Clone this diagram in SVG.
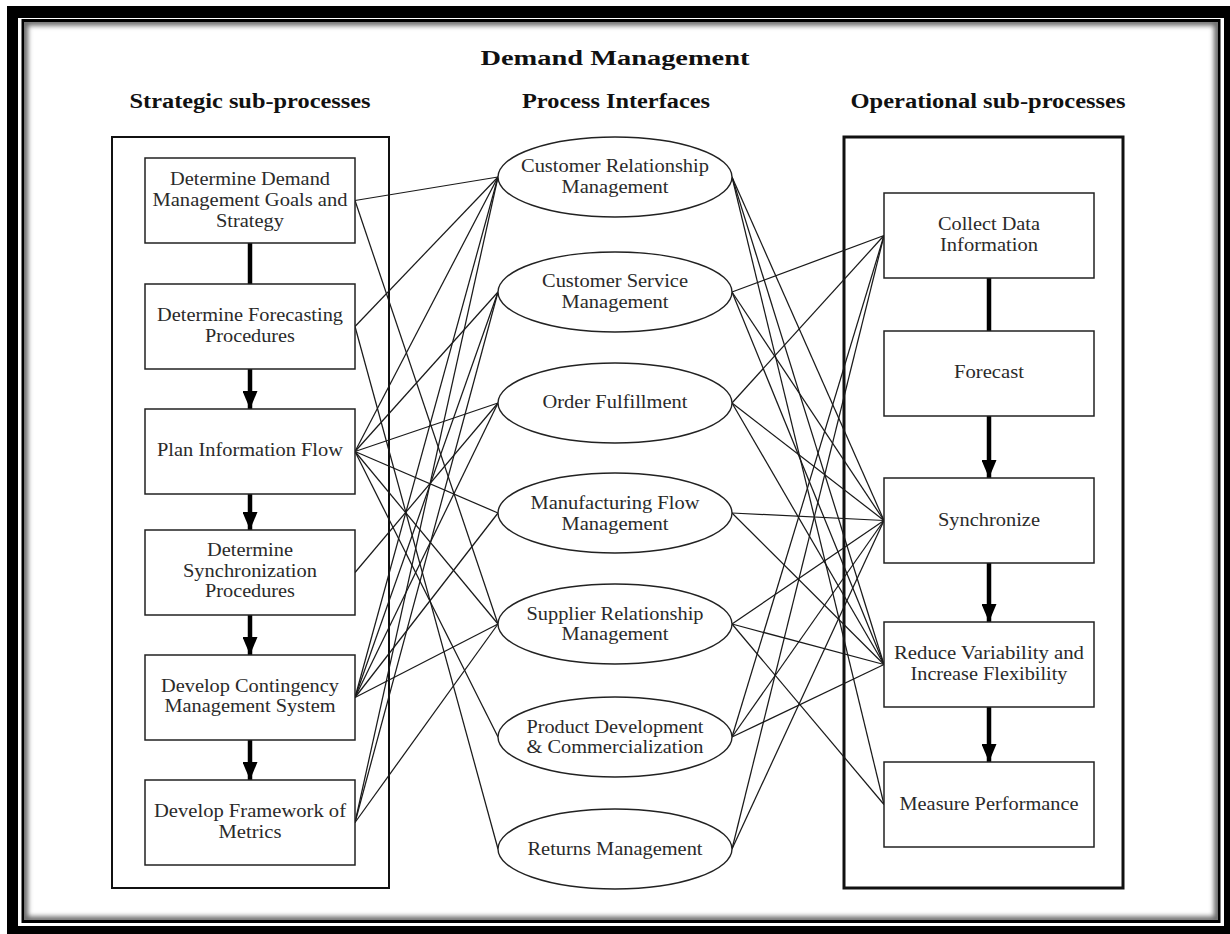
<svg xmlns="http://www.w3.org/2000/svg" width="1230" height="934" viewBox="0 0 1230 934">
  <style>
    .box { fill: #fff; stroke: #222; stroke-width: 1.5; }
    .ell { fill: #fff; stroke: #222; stroke-width: 1.4; }
    .grp { fill: none; stroke: #111; }
    .lbl { font-family: "Liberation Serif", "Times New Roman", serif; font-size: 19px; fill: #2a2a2a; text-anchor: middle; }
    .hdr { font-family: "Liberation Serif", "Times New Roman", serif; font-size: 20px; font-weight: bold; fill: #111; text-anchor: middle; }
    .link { stroke: #1a1a1a; stroke-width: 1.25; fill: none; }
    .flow { stroke: #000; stroke-width: 4.5; fill: none; }
  </style>
  <defs>
    <marker id="head" viewBox="0 0 18 15" refX="18" refY="7.5" markerWidth="18" markerHeight="15" markerUnits="userSpaceOnUse" orient="auto">
      <path d="M0,0 L18,7.5 L0,15 Z" fill="#000"/>
    </marker>
    <filter id="soft" x="-5%" y="-5%" width="110%" height="110%">
      <feGaussianBlur stdDeviation="2.5"/>
    </filter>
    <clipPath id="inside">
      <rect x="24.5" y="22" width="1193" height="898"/>
    </clipPath>
  </defs>

  <rect x="0" y="0" width="1230" height="934" fill="#fff"/>

  <!-- page frame: heavy outer band, thin inner rule, soft inner shade -->
  <path d="M7,6 H1230 V934 H7 Z M18,18 V926 H1224 V18 Z" fill="#000" fill-rule="evenodd"/>
  <rect x="23" y="20.5" width="1196" height="901" fill="none" stroke="#000" stroke-width="3"/>
  <rect x="24.5" y="22" width="1193" height="898" fill="none" stroke="#666" stroke-width="7" filter="url(#soft)" clip-path="url(#inside)"/>

  <!-- headings -->
  <text class="hdr" x="615" y="65" textLength="269" lengthAdjust="spacingAndGlyphs">Demand Management</text>
  <text class="hdr" x="250" y="108" textLength="241" lengthAdjust="spacingAndGlyphs">Strategic sub-processes</text>
  <text class="hdr" x="616" y="108" textLength="188" lengthAdjust="spacingAndGlyphs">Process Interfaces</text>
  <text class="hdr" x="988" y="108" textLength="275" lengthAdjust="spacingAndGlyphs">Operational sub-processes</text>

  <!-- column frames -->
  <rect class="grp" x="112" y="137" width="277" height="751" stroke-width="2"/>
  <rect class="grp" x="844" y="137" width="279" height="751" stroke-width="3"/>

  <!-- connectors -->
  <g id="connectors">
    <!-- strategic sub-processes to process interfaces -->
    <line class="link" x1="355" y1="200.5" x2="498" y2="177"/>
    <line class="link" x1="355" y1="200.5" x2="498" y2="624"/>
    <line class="link" x1="355" y1="326.5" x2="498" y2="177"/>
    <line class="link" x1="355" y1="326.5" x2="498" y2="849"/>
    <line class="link" x1="355" y1="451.5" x2="498" y2="177"/>
    <line class="link" x1="355" y1="451.5" x2="498" y2="292"/>
    <line class="link" x1="355" y1="451.5" x2="498" y2="403"/>
    <line class="link" x1="355" y1="451.5" x2="498" y2="513"/>
    <line class="link" x1="355" y1="451.5" x2="498" y2="624"/>
    <line class="link" x1="355" y1="451.5" x2="498" y2="737"/>
    <line class="link" x1="355" y1="572.5" x2="498" y2="403"/>
    <line class="link" x1="355" y1="697.5" x2="498" y2="177"/>
    <line class="link" x1="355" y1="697.5" x2="498" y2="292"/>
    <line class="link" x1="355" y1="697.5" x2="498" y2="403"/>
    <line class="link" x1="355" y1="697.5" x2="498" y2="513"/>
    <line class="link" x1="355" y1="697.5" x2="498" y2="624"/>
    <line class="link" x1="355" y1="822.5" x2="498" y2="177"/>
    <line class="link" x1="355" y1="822.5" x2="498" y2="292"/>
    <line class="link" x1="355" y1="822.5" x2="498" y2="624"/>
    <!-- process interfaces to operational sub-processes -->
    <line class="link" x1="732" y1="177" x2="884" y2="520.5"/>
    <line class="link" x1="732" y1="177" x2="884" y2="664.5"/>
    <line class="link" x1="732" y1="177" x2="884" y2="804.5"/>
    <line class="link" x1="732" y1="292" x2="884" y2="235.5"/>
    <line class="link" x1="732" y1="292" x2="884" y2="520.5"/>
    <line class="link" x1="732" y1="292" x2="884" y2="664.5"/>
    <line class="link" x1="732" y1="403" x2="884" y2="235.5"/>
    <line class="link" x1="732" y1="403" x2="884" y2="520.5"/>
    <line class="link" x1="732" y1="403" x2="884" y2="664.5"/>
    <line class="link" x1="732" y1="513" x2="884" y2="520.5"/>
    <line class="link" x1="732" y1="513" x2="884" y2="664.5"/>
    <line class="link" x1="732" y1="624" x2="884" y2="520.5"/>
    <line class="link" x1="732" y1="624" x2="884" y2="664.5"/>
    <line class="link" x1="732" y1="624" x2="884" y2="804.5"/>
    <line class="link" x1="732" y1="737" x2="884" y2="235.5"/>
    <line class="link" x1="732" y1="737" x2="884" y2="520.5"/>
    <line class="link" x1="732" y1="737" x2="884" y2="664.5"/>
    <line class="link" x1="732" y1="849" x2="884" y2="235.5"/>
    <line class="link" x1="732" y1="849" x2="884" y2="520.5"/>
    <!-- sequence within the strategic column -->
    <line class="flow" x1="250" y1="243" x2="250" y2="284"/>
    <line class="flow" x1="250" y1="369" x2="250" y2="409" marker-end="url(#head)"/>
    <line class="flow" x1="250" y1="494" x2="250" y2="530" marker-end="url(#head)"/>
    <line class="flow" x1="250" y1="615" x2="250" y2="655" marker-end="url(#head)"/>
    <line class="flow" x1="250" y1="740" x2="250" y2="780" marker-end="url(#head)"/>
    <!-- sequence within the operational column -->
    <line class="flow" x1="989" y1="278" x2="989" y2="331"/>
    <line class="flow" x1="989" y1="416" x2="989" y2="478" marker-end="url(#head)"/>
    <line class="flow" x1="989" y1="563" x2="989" y2="622" marker-end="url(#head)"/>
    <line class="flow" x1="989" y1="707" x2="989" y2="762" marker-end="url(#head)"/>
  </g>

  <!-- strategic sub-processes -->
  <g id="s-goals">
    <rect class="box" x="145" y="158" width="210" height="85"/>
    <text class="lbl" x="250" y="185" textLength="160" lengthAdjust="spacingAndGlyphs">Determine Demand</text>
    <text class="lbl" x="250" y="206" textLength="195" lengthAdjust="spacingAndGlyphs">Management Goals and</text>
    <text class="lbl" x="250" y="227" textLength="68" lengthAdjust="spacingAndGlyphs">Strategy</text>
  </g>
  <g id="s-forecasting">
    <rect class="box" x="145" y="284" width="210" height="85"/>
    <text class="lbl" x="250" y="321" textLength="186" lengthAdjust="spacingAndGlyphs">Determine Forecasting</text>
    <text class="lbl" x="250" y="342" textLength="90" lengthAdjust="spacingAndGlyphs">Procedures</text>
  </g>
  <g id="s-info-flow">
    <rect class="box" x="145" y="409" width="210" height="85"/>
    <text class="lbl" x="250" y="456" textLength="186" lengthAdjust="spacingAndGlyphs">Plan Information Flow</text>
  </g>
  <g id="s-sync">
    <rect class="box" x="145" y="530" width="210" height="85"/>
    <text class="lbl" x="250" y="556" textLength="86" lengthAdjust="spacingAndGlyphs">Determine</text>
    <text class="lbl" x="250" y="577" textLength="134" lengthAdjust="spacingAndGlyphs">Synchronization</text>
    <text class="lbl" x="250" y="597" textLength="90" lengthAdjust="spacingAndGlyphs">Procedures</text>
  </g>
  <g id="s-contingency">
    <rect class="box" x="145" y="655" width="210" height="85"/>
    <text class="lbl" x="250" y="692" textLength="178" lengthAdjust="spacingAndGlyphs">Develop Contingency</text>
    <text class="lbl" x="250" y="712" textLength="171" lengthAdjust="spacingAndGlyphs">Management System</text>
  </g>
  <g id="s-metrics">
    <rect class="box" x="145" y="780" width="210" height="85"/>
    <text class="lbl" x="250" y="817" textLength="192" lengthAdjust="spacingAndGlyphs">Develop Framework of</text>
    <text class="lbl" x="250" y="838" textLength="63" lengthAdjust="spacingAndGlyphs">Metrics</text>
  </g>

  <!-- process interfaces -->
  <g id="p-crm">
    <ellipse class="ell" cx="615" cy="177" rx="117" ry="40"/>
    <text class="lbl" x="615" y="172" textLength="188" lengthAdjust="spacingAndGlyphs">Customer Relationship</text>
    <text class="lbl" x="615" y="193" textLength="107" lengthAdjust="spacingAndGlyphs">Management</text>
  </g>
  <g id="p-csm">
    <ellipse class="ell" cx="615" cy="292" rx="117" ry="40"/>
    <text class="lbl" x="615" y="287" textLength="146" lengthAdjust="spacingAndGlyphs">Customer Service</text>
    <text class="lbl" x="615" y="308" textLength="107" lengthAdjust="spacingAndGlyphs">Management</text>
  </g>
  <g id="p-order">
    <ellipse class="ell" cx="615" cy="403" rx="117" ry="40"/>
    <text class="lbl" x="615" y="408" textLength="145" lengthAdjust="spacingAndGlyphs">Order Fulfillment</text>
  </g>
  <g id="p-mfg">
    <ellipse class="ell" cx="615" cy="513" rx="117" ry="40"/>
    <text class="lbl" x="615" y="509" textLength="169" lengthAdjust="spacingAndGlyphs">Manufacturing Flow</text>
    <text class="lbl" x="615" y="530" textLength="107" lengthAdjust="spacingAndGlyphs">Management</text>
  </g>
  <g id="p-srm">
    <ellipse class="ell" cx="615" cy="624" rx="117" ry="40"/>
    <text class="lbl" x="615" y="620" textLength="177" lengthAdjust="spacingAndGlyphs">Supplier Relationship</text>
    <text class="lbl" x="615" y="640" textLength="107" lengthAdjust="spacingAndGlyphs">Management</text>
  </g>
  <g id="p-product">
    <ellipse class="ell" cx="615" cy="737" rx="117" ry="40"/>
    <text class="lbl" x="615" y="733" textLength="177" lengthAdjust="spacingAndGlyphs">Product Development</text>
    <text class="lbl" x="615" y="753" textLength="177" lengthAdjust="spacingAndGlyphs">&amp; Commercialization</text>
  </g>
  <g id="p-returns">
    <ellipse class="ell" cx="615" cy="849" rx="117" ry="40"/>
    <text class="lbl" x="615" y="855" textLength="175" lengthAdjust="spacingAndGlyphs">Returns Management</text>
  </g>

  <!-- operational sub-processes -->
  <g id="o-collect">
    <rect class="box" x="884" y="193" width="210" height="85"/>
    <text class="lbl" x="989" y="230" textLength="102" lengthAdjust="spacingAndGlyphs">Collect Data</text>
    <text class="lbl" x="989" y="251" textLength="98" lengthAdjust="spacingAndGlyphs">Information</text>
  </g>
  <g id="o-forecast">
    <rect class="box" x="884" y="331" width="210" height="85"/>
    <text class="lbl" x="989" y="378" textLength="70" lengthAdjust="spacingAndGlyphs">Forecast</text>
  </g>
  <g id="o-sync">
    <rect class="box" x="884" y="478" width="210" height="85"/>
    <text class="lbl" x="989" y="526" textLength="102" lengthAdjust="spacingAndGlyphs">Synchronize</text>
  </g>
  <g id="o-reduce">
    <rect class="box" x="884" y="622" width="210" height="85"/>
    <text class="lbl" x="989" y="659" textLength="190" lengthAdjust="spacingAndGlyphs">Reduce Variability and</text>
    <text class="lbl" x="989" y="680" textLength="157" lengthAdjust="spacingAndGlyphs">Increase Flexibility</text>
  </g>
  <g id="o-measure">
    <rect class="box" x="884" y="762" width="210" height="85"/>
    <text class="lbl" x="989" y="810" textLength="179" lengthAdjust="spacingAndGlyphs">Measure Performance</text>
  </g>
</svg>
